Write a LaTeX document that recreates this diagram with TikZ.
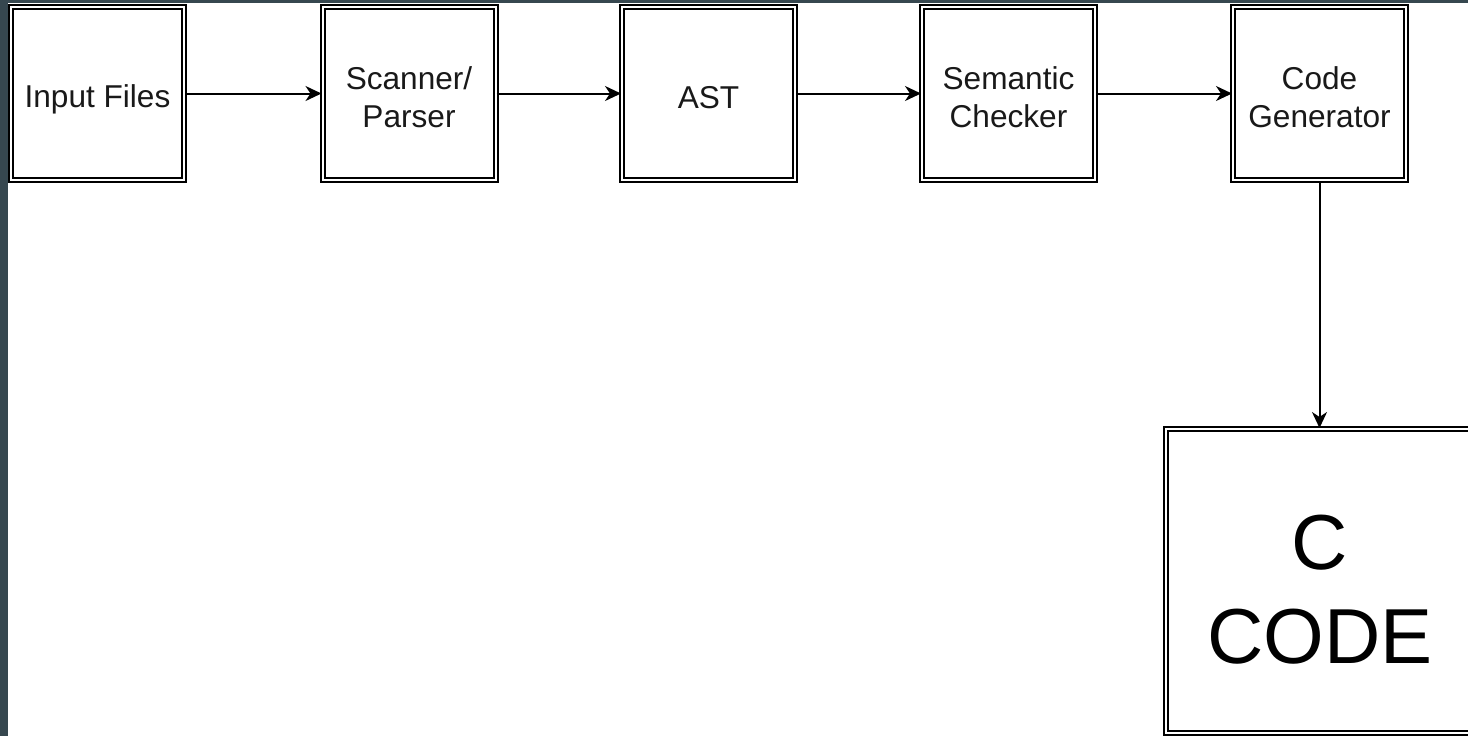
\documentclass[tikz,border=0pt]{standalone}
\usepackage{fontspec}
\setmainfont{Liberation Sans}
\usetikzlibrary{arrows.meta}
\definecolor{slate}{RGB}{54,71,79}
\begin{document}
\begin{tikzpicture}[x=0.5pt,y=-0.5pt,
  stage/.style={draw=black, double=white, line width=1pt, double distance=1pt,
    fill=white, minimum width=86.5pt, minimum height=86.5pt, inner sep=0pt},
  stagetext/.style={align=center, inner sep=0pt, yshift=-2pt,
    font=\fontsize{15.8pt}{19pt}\selectfont, text=black!90},
  flow/.style={draw=black, line width=1pt,
    -{Stealth[length=8pt,width=7.5pt,inset=2.5pt]}}]
\useasboundingbox (0,0) rectangle (1468,736);
\fill[slate] (0,0) rectangle (1468,736);
\fill[white] (8,3) rectangle (1468,736);
\begin{scope}
\clip (8,3) rectangle (1468,736);
\node[stage, label={[stagetext, yshift=-1pt]center:Input Files}] (inp) at (97.5,93.5) {};
\node[stage, label={[stagetext]center:{Scanner/\\Parser}}] (scan) at (409,93.5) {};
\node[stage, label={[stagetext]center:AST}] (ast) at (708.5,93.5) {};
\node[stage, label={[stagetext]center:{Semantic\\Checker}}] (sem) at (1008.5,93.5) {};
\node[stage, label={[stagetext]center:{Code\\Generator}}] (gen) at (1319.5,93.5) {};
\node[stage, minimum width=154pt, minimum height=152pt,
  label={[align=center, inner sep=0pt, yshift=-4.5pt,
    font=\fontsize{39pt}{47pt}\selectfont]center:{C\\CODE}}] (cbox) at (1320,581) {};
\draw[flow] (inp.east) -- (scan.west);
\draw[flow] (scan.east) -- (ast.west);
\draw[flow] (ast.east) -- (sem.west);
\draw[flow] (sem.east) -- (gen.west);
\draw[flow] (gen.south) -- (gen.south |- cbox.north);
\end{scope}
\end{tikzpicture}
\end{document}
